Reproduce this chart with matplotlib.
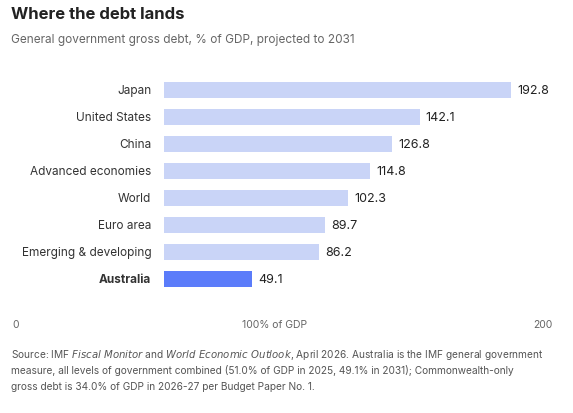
import matplotlib.pyplot as plt

plt.rcParams["font.family"] = ["Inter", "DejaVu Sans"]

categories = ["Japan", "United States", "China", "Advanced economies", "World",
              "Euro area", "Emerging & developing", "Australia"]
values = [192.8, 142.1, 126.8, 114.8, 102.3, 89.7, 86.2, 49.1]
highlight = "Australia"

fig = plt.figure(figsize=(5.73, 4.14), dpi=100)
ax = fig.add_axes([0.286, 0.292, 0.628, 0.52])

ypos = list(range(len(categories)))
colors = ["#5b7cfa" if c == highlight else "#c9d4f7" for c in categories]
ax.barh(ypos, values, height=0.6, color=colors)
for y, v, c in zip(ypos, values, categories):
    ax.text(v + 3.5, y, f"{v:.1f}", va="center", ha="left", fontsize=9, color="#222222")
    ax.text(-7, y, c, va="center", ha="right", fontsize=8.5, color="#333333",
            fontweight="bold" if c == highlight else "normal")
ax.set_xlim(0, 200)
ax.set_ylim(len(categories) - 0.5, -0.5)
ax.axis("off")

fig.text(0.02, 0.965, "Where the debt lands", fontsize=12, fontweight="bold",
         color="#222222", va="center")
fig.text(0.02, 0.903, "General government gross debt, % of GDP, projected to 2031",
         fontsize=8.5, color="#666666", va="center")

fig.text(0.028, 0.215, "0", fontsize=7.5, color="#666666", ha="center", va="center")
fig.text(0.48, 0.215, "100% of GDP", fontsize=7.5, color="#666666", ha="center", va="center")
fig.text(0.948, 0.215, "200", fontsize=7.5, color="#666666", ha="center", va="center")

lines = [
    "Source: IMF $\\it{Fiscal\\ Monitor}$ and $\\it{World\\ Economic\\ Outlook}$, April 2026. Australia is the IMF general government",
    "measure, all levels of government combined (51.0% of GDP in 2025, 49.1% in 2031); Commonwealth-only",
    "gross debt is 34.0% of GDP in 2026-27 per Budget Paper No. 1.",
]
for i, line in enumerate(lines):
    fig.text(0.02, 0.143 - i * 0.039, line, fontsize=7.3, color="#555555", va="center")

fig.savefig("out.png", dpi=100)
